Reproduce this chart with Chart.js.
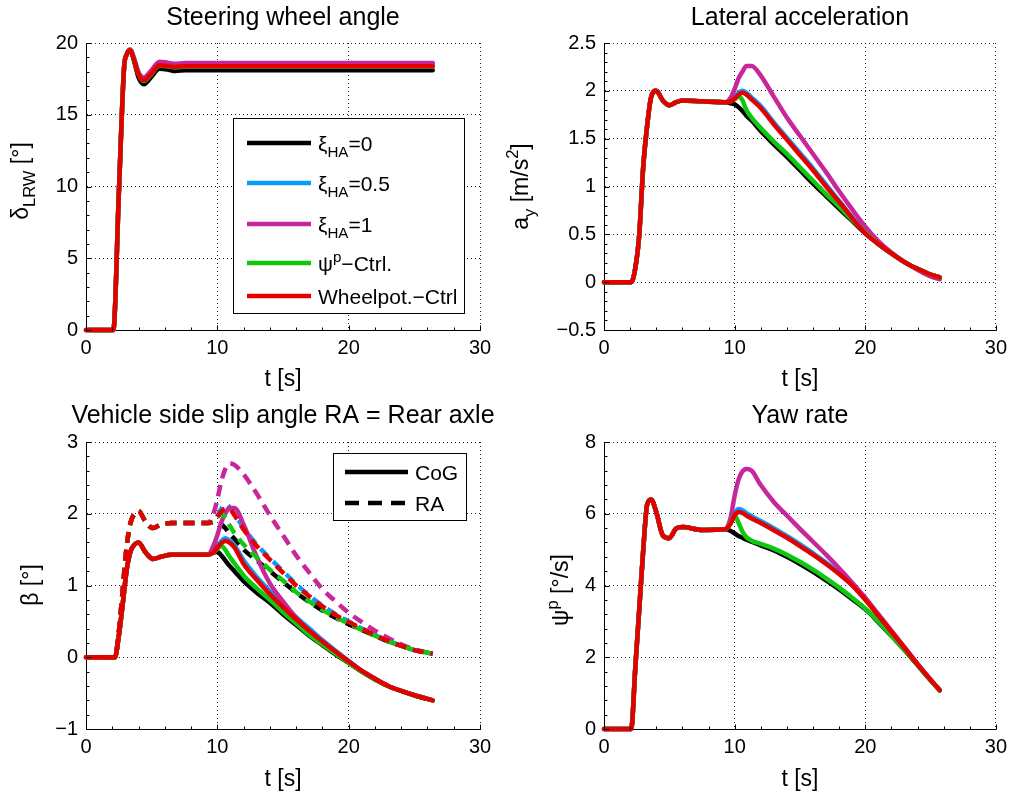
<!DOCTYPE html>
<html>
<head>
<meta charset="utf-8">
<title>Vehicle dynamics – step steer</title>
<script src="https://cdn.jsdelivr.net/npm/chart.js@4/dist/chart.umd.min.js"></script>
<style>
  html, body { margin: 0; padding: 0; background: #fff; }
  #fig { position: relative; width: 1013px; height: 794px; overflow: hidden; background: #fff; }
  #fig canvas { position: absolute; }
</style>
</head>
<body>
<div id="fig">
  <canvas id="cSteer" width="506" height="397" style="left:0px;top:0px"></canvas>
  <canvas id="cLat"   width="507" height="397" style="left:506px;top:0px"></canvas>
  <canvas id="cSlip"  width="506" height="397" style="left:0px;top:397px"></canvas>
  <canvas id="cYaw"   width="507" height="397" style="left:506px;top:397px"></canvas>
</div>
<script>
// ---------- series names and colours ----------
const seriesNames  = ['ξHA=0', 'ξHA=0.5', 'ξHA=1', 'ψp–Ctrl.', 'Wheelpot.–Ctrl'];
const seriesColors = ['#000000', '#0A9BFF', '#C8269B', '#10C810', '#E50000'];

// ---------- steering wheel angle δ_LRW [°] ----------
const tSteer       = [0, 2.08, 2.5, 2.9, 3.1, 3.35, 3.7, 4.0, 4.4, 4.9, 5.6, 6.2, 6.8, 7.6, 9, 26.4];
const steerBlack   = [0, 0, 9.5, 18.3, 19.2, 19.5, 18.6, 17.6, 17.13, 17.55, 18.2, 18.15, 18.05, 18.1, 18.1, 18.1];
const steerBlue    = [0, 0, 9.5, 18.3, 19.2, 19.55, 18.8, 17.95, 17.55, 17.95, 18.65, 18.6, 18.52, 18.57, 18.58, 18.58];
const steerMagenta = [0, 0, 9.5, 18.3, 19.2, 19.55, 18.8, 17.95, 17.6, 18.0, 18.7, 18.62, 18.55, 18.6, 18.6, 18.6];
const steerGreen   = [0, 0, 9.5, 18.3, 19.2, 19.5, 18.7, 17.8, 17.35, 17.75, 18.42, 18.38, 18.3, 18.35, 18.35, 18.35];
const steerRed     = [0, 0, 9.5, 18.3, 19.2, 19.5, 18.7, 17.8, 17.4, 17.8, 18.45, 18.4, 18.33, 18.38, 18.38, 18.38];

// ---------- time base for lateral acceleration and yaw rate ----------
const tRight = [0, 2.08, 2.4, 2.7, 3.0, 3.3, 3.6, 4.0, 4.5, 5.0, 5.5, 6.0, 7.5, 9.3,
                9.7, 10.0, 10.3, 10.6, 10.9, 11.3, 12, 13, 14, 15, 16, 17, 18, 19, 20, 21, 22, 23, 24, 25, 25.7];

// lateral acceleration a_y [m/s²]
const latStart   = [0, 0, 0.15, 0.5, 1.2, 1.63, 1.93, 2.0, 1.9, 1.85, 1.88, 1.9, 1.89, 1.88];
const latBlack   = latStart.concat([1.87, 1.86, 1.83, 1.79, 1.74, 1.69, 1.58, 1.44, 1.31, 1.17, 1.03, 0.9, 0.77, 0.64, 0.51, 0.4, 0.3, 0.21, 0.14, 0.08, 0.05]);
const latBlue    = latStart.concat([1.9, 1.94, 1.98, 2.0, 1.98, 1.93, 1.84, 1.67, 1.51, 1.35, 1.19, 1.02, 0.85, 0.68, 0.52, 0.4, 0.3, 0.21, 0.14, 0.08, 0.05]);
const latMagenta = latStart.concat([1.93, 2.02, 2.13, 2.2, 2.26, 2.26, 2.16, 1.94, 1.72, 1.53, 1.34, 1.15, 0.95, 0.76, 0.58, 0.43, 0.31, 0.21, 0.13, 0.06, 0.03]);
const latGreen   = latStart.concat([1.89, 1.91, 1.94, 1.9, 1.8, 1.72, 1.61, 1.47, 1.34, 1.2, 1.06, 0.92, 0.79, 0.65, 0.52, 0.4, 0.3, 0.21, 0.14, 0.08, 0.05]);
const latRed     = latStart.concat([1.89, 1.92, 1.96, 1.98, 1.96, 1.91, 1.82, 1.65, 1.49, 1.33, 1.17, 1.0, 0.84, 0.67, 0.51, 0.4, 0.3, 0.21, 0.14, 0.08, 0.05]);

// yaw rate ψp [°/s]
const yawStart   = [0, 0, 1.73, 3.35, 4.97, 6.25, 6.4, 6.05, 5.4, 5.32, 5.58, 5.63, 5.55, 5.57];
const yawBlack   = yawStart.concat([5.52, 5.45, 5.38, 5.33, 5.28, 5.22, 5.12, 4.98, 4.8, 4.6, 4.38, 4.14, 3.89, 3.62, 3.34, 2.98, 2.6, 2.2, 1.78, 1.36, 1.08]);
const yawBlue    = yawStart.concat([5.75, 6.0, 6.13, 6.1, 6.02, 5.93, 5.8, 5.6, 5.38, 5.15, 4.9, 4.64, 4.35, 4.02, 3.62, 3.18, 2.73, 2.27, 1.81, 1.37, 1.08]);
const yawMagenta = yawStart.concat([5.9, 6.5, 6.95, 7.18, 7.25, 7.2, 6.8, 6.33, 5.95, 5.58, 5.22, 4.86, 4.48, 4.08, 3.66, 3.2, 2.74, 2.28, 1.82, 1.38, 1.09]);
const yawGreen   = yawStart.concat([5.75, 5.96, 5.75, 5.5, 5.35, 5.25, 5.16, 5.03, 4.86, 4.66, 4.44, 4.2, 3.94, 3.66, 3.36, 3.0, 2.61, 2.21, 1.79, 1.36, 1.08]);
const yawRed     = yawStart.concat([5.73, 5.95, 6.05, 6.02, 5.95, 5.87, 5.74, 5.54, 5.33, 5.1, 4.86, 4.6, 4.32, 4.0, 3.6, 3.16, 2.71, 2.26, 1.8, 1.37, 1.08]);

// ---------- side slip angle β [°] at CoG (solid) and rear axle (dashed) ----------
const tSlip = [0, 2.2, 2.5, 2.8, 3.1, 3.4, 3.7, 4.0, 4.5, 5.1, 5.7, 6.5, 8, 9.3,
               9.7, 10.0, 10.3, 10.6, 10.9, 11.3, 12, 13, 14, 15, 16, 17, 18, 19, 20, 21, 22, 23, 24, 25, 26.4];
const cogStart   = [0, 0, 0.3, 0.75, 1.22, 1.48, 1.57, 1.6, 1.47, 1.37, 1.4, 1.43, 1.43, 1.43];
const cogBlack   = cogStart.concat([1.46, 1.47, 1.42, 1.35, 1.28, 1.2, 1.06, 0.9, 0.76, 0.6, 0.45, 0.3, 0.17, 0.04, -0.08, -0.2, -0.31, -0.4, -0.47, -0.53, -0.6]);
const cogBlue    = cogStart.concat([1.47, 1.55, 1.62, 1.66, 1.63, 1.56, 1.35, 1.12, 0.92, 0.74, 0.56, 0.4, 0.24, 0.09, -0.05, -0.19, -0.3, -0.4, -0.47, -0.53, -0.6]);
const cogMagenta = cogStart.concat([1.55, 1.7, 1.88, 2.0, 2.08, 2.08, 1.85, 1.4, 1.03, 0.78, 0.55, 0.36, 0.2, 0.06, -0.06, -0.19, -0.3, -0.4, -0.47, -0.53, -0.6]);
const cogGreen   = cogStart.concat([1.46, 1.51, 1.55, 1.5, 1.41, 1.31, 1.14, 0.96, 0.8, 0.63, 0.47, 0.31, 0.18, 0.05, -0.08, -0.2, -0.31, -0.4, -0.47, -0.53, -0.6]);
const cogRed     = cogStart.concat([1.46, 1.53, 1.59, 1.62, 1.6, 1.53, 1.3, 1.08, 0.88, 0.7, 0.53, 0.37, 0.22, 0.08, -0.06, -0.19, -0.3, -0.4, -0.47, -0.53, -0.6]);

const raStart   = [0, 0, 0.35, 0.95, 1.55, 1.88, 2.0, 2.04, 1.9, 1.8, 1.85, 1.87, 1.87, 1.87];
const raBlack   = raStart.concat([1.88, 1.87, 1.85, 1.8, 1.73, 1.65, 1.5, 1.35, 1.2, 1.05, 0.9, 0.77, 0.65, 0.55, 0.46, 0.38, 0.3, 0.22, 0.16, 0.1, 0.05]);
const raBlue    = raStart.concat([1.9, 1.97, 2.07, 2.13, 2.1, 2.0, 1.8, 1.57, 1.38, 1.2, 1.02, 0.86, 0.72, 0.6, 0.5, 0.4, 0.31, 0.23, 0.16, 0.1, 0.05]);
const raMagenta = raStart.concat([2.0, 2.2, 2.45, 2.62, 2.7, 2.68, 2.55, 2.28, 1.98, 1.7, 1.42, 1.18, 0.95, 0.78, 0.62, 0.49, 0.37, 0.27, 0.18, 0.11, 0.05]);
const raGreen   = raStart.concat([1.9, 1.95, 2.0, 1.95, 1.85, 1.73, 1.57, 1.39, 1.22, 1.07, 0.91, 0.78, 0.66, 0.56, 0.47, 0.38, 0.3, 0.22, 0.16, 0.1, 0.05]);
const raRed     = raStart.concat([1.9, 1.96, 2.03, 2.07, 2.07, 1.98, 1.78, 1.55, 1.36, 1.18, 1.0, 0.85, 0.71, 0.59, 0.49, 0.4, 0.31, 0.23, 0.16, 0.1, 0.05]);

// ---------- axis ticks ----------
const xTicks     = [0, 10, 20, 30];
const steerTicks = [0, 5, 10, 15, 20];
const latTicks   = [-0.5, 0, 0.5, 1, 1.5, 2, 2.5];
const slipTicks  = [-1, 0, 1, 2, 3];
const yawTicks   = [0, 2, 4, 6, 8];

// ---------- drawing helpers ----------
const FONT = "'Liberation Sans', Arial, Helvetica, sans-serif";
const fnt = s => s + 'px ' + FONT;
const fmt = v => String(v).replace('-', '\u2212');

// later entries are painted on top (lower "order" is drawn last in Chart.js)
function line(t, ys, color, dashed, drawIndex) {
  return {
    data: t.map((x, i) => ({ x: x, y: ys[i] })),
    borderColor: color,
    borderWidth: 4.5,
    borderDash: dashed ? [11, 7] : [],
    borderCapStyle: dashed ? 'butt' : 'round',
    borderJoinStyle: 'round',
    pointRadius: 0,
    cubicInterpolationMode: 'monotone',
    clip: false,
    fill: false,
    order: 100 - drawIndex
  };
}

// rich text: segments [text, kind] where kind is 'n', 'sub' or 'sup'
function segSize(kind, base) { return kind === 'n' ? base : base * 0.72; }
function richWidth(ctx, segs, base) {
  let w = 0;
  for (const [txt, k] of segs) { ctx.font = fnt(segSize(k, base)); w += ctx.measureText(txt).width; }
  return w;
}
function drawRich(ctx, segs, x, y, base) {
  let cx = x;
  ctx.textAlign = 'left';
  ctx.textBaseline = 'alphabetic';
  for (const [txt, k] of segs) {
    const s = segSize(k, base);
    const dy = k === 'sub' ? base * 0.3 : (k === 'sup' ? -base * 0.42 : 0);
    ctx.font = fnt(s);
    ctx.fillText(txt, cx, y + dy);
    cx += ctx.measureText(txt).width;
  }
}

// Panel decoration: title, rich y label, inward ticks, legend box
const panelDecor = {
  id: 'panelDecor',
  afterDraw(chart, args, o) {
    const ctx = chart.ctx;
    const ca = chart.chartArea;
    ctx.save();
    ctx.fillStyle = '#000';
    ctx.strokeStyle = '#000';

    // title
    ctx.font = fnt(25);
    ctx.textAlign = 'center';
    ctx.textBaseline = 'alphabetic';
    ctx.fillText(o.title, (ca.left + ca.right) / 2, o.titleY);

    // y axis label, rotated
    const w = richWidth(ctx, o.ylabel, 23);
    ctx.save();
    ctx.translate(o.ylabelX, o.ylabelCY);
    ctx.rotate(-Math.PI / 2);
    drawRich(ctx, o.ylabel, -w / 2, 0, 23);
    ctx.restore();

    // inward tick marks on the left and bottom axes
    const xs = chart.scales.x, ys = chart.scales.y;
    ctx.lineWidth = 1;
    ctx.beginPath();
    const bottom = Math.round(ca.bottom) + 0.5, left = Math.round(ca.left) + 0.5;
    const mark = (v, len, axis) => {
      if (axis === 'x') { const p = Math.round(xs.getPixelForValue(v)) + 0.5; ctx.moveTo(p, bottom); ctx.lineTo(p, bottom - len); }
      else { const p = Math.round(ys.getPixelForValue(v)) + 0.5; ctx.moveTo(left, p); ctx.lineTo(left + len, p); }
    };
    for (let v = xs.min; v <= xs.max + 1e-9; v += o.minorX) mark(v, 3, 'x');
    for (let v = ys.min; v <= ys.max + 1e-9; v += o.minorY) mark(v, 3, 'y');
    xs.ticks.forEach(t => mark(t.value, 5, 'x'));
    ys.ticks.forEach(t => mark(t.value, 5, 'y'));
    ctx.stroke();

    // legend
    if (o.legend) {
      const L = o.legend;
      ctx.fillStyle = '#fff';
      ctx.fillRect(L.box[0], L.box[1], L.box[2], L.box[3]);
      ctx.lineWidth = 1;
      ctx.strokeStyle = '#000';
      ctx.strokeRect(L.box[0], L.box[1], L.box[2], L.box[3]);
      for (const it of L.items) {
        ctx.save();
        ctx.strokeStyle = it.color;
        ctx.lineWidth = 4.5;
        ctx.setLineDash(it.dashed ? [14, 9] : []);
        ctx.beginPath();
        ctx.moveTo(L.x1, it.y);
        ctx.lineTo(L.x2, it.y);
        ctx.stroke();
        ctx.restore();
        ctx.fillStyle = '#000';
        drawRich(ctx, it.label, L.tx, it.y + L.size * 0.36, L.size);
      }
    }
    ctx.restore();
  }
};

function scaleSet(yTicks, yW, xH, titlePadBottom) {
  const tickFont = { family: FONT, size: 20 };
  const gridCommon = { color: 'rgba(0,0,0,0.85)', lineWidth: 1, drawTicks: false };
  return {
    x: {
      type: 'linear', min: xTicks[0], max: xTicks[xTicks.length - 1],
      afterBuildTicks: s => { s.ticks = xTicks.map(v => ({ value: v })); },
      ticks: { font: tickFont, color: '#000', padding: 6, maxRotation: 0, autoSkip: false, callback: fmt },
      grid: gridCommon,
      border: { display: true, color: '#000', width: 1, dash: [1, 3] },
      title: { display: true, text: 't [s]', color: '#000', font: { family: FONT, size: 23 },
               padding: { top: 0, bottom: titlePadBottom } },
      afterFit: s => { s.height = xH; }
    },
    y: {
      type: 'linear', min: yTicks[0], max: yTicks[yTicks.length - 1],
      afterBuildTicks: s => { s.ticks = yTicks.map(v => ({ value: v })); },
      ticks: { font: tickFont, color: '#000', padding: 8, autoSkip: false, callback: fmt },
      grid: gridCommon,
      border: { display: true, color: '#000', width: 1, dash: [1, 3] },
      afterFit: s => { s.width = yW; }
    }
  };
}

function makeChart(id, datasets, scales, padding, decor) {
  return new Chart(document.getElementById(id), {
    type: 'line',
    data: { datasets: datasets },
    options: {
      responsive: false,
      animation: false,
      devicePixelRatio: 1,
      events: [],
      layout: { padding: padding },
      scales: scales,
      plugins: { legend: { display: false }, tooltip: { enabled: false }, title: { display: false }, panelDecor: decor }
    },
    plugins: [panelDecor]
  });
}

// ---------- build the four panels ----------
const steerSets = [steerBlack, steerBlue, steerMagenta, steerGreen, steerRed]
  .map((ys, i) => line(tSteer, ys, seriesColors[i], false, i));
makeChart('cSteer', steerSets, scaleSet(steerTicks, 86, 67, 4),
  { left: 0, top: 43, right: 26, bottom: 0 },
  {
    title: 'Steering wheel angle', titleY: 25,
    ylabel: [['δ', 'n'], ['LRW', 'sub'], [' [°]', 'n']], ylabelX: 28, ylabelCY: 181,
    minorX: 2, minorY: 1,
    legend: {
      box: [233.5, 118.5, 231, 195], x1: 247, x2: 311, tx: 318, size: 21,
      items: [
        { y: 143, color: seriesColors[0], label: [['ξ', 'n'], ['HA', 'sub'], ['=0', 'n']] },
        { y: 183, color: seriesColors[1], label: [['ξ', 'n'], ['HA', 'sub'], ['=0.5', 'n']] },
        { y: 224, color: seriesColors[2], label: [['ξ', 'n'], ['HA', 'sub'], ['=1', 'n']] },
        { y: 263, color: seriesColors[3], label: [['ψ', 'n'], ['p', 'sup'], ['\u2212Ctrl.', 'n']] },
        { y: 296, color: seriesColors[4], label: [['Wheelpot.\u2212Ctrl', 'n']] }
      ]
    }
  });

const latSets = [latBlack, latBlue, latMagenta, latGreen, latRed]
  .map((ys, i) => line(tRight, ys, seriesColors[i], false, i));
makeChart('cLat', latSets, scaleSet(latTicks, 98, 67, 4),
  { left: 0, top: 43, right: 15, bottom: 0 },
  {
    title: 'Lateral acceleration', titleY: 25,
    ylabel: [['a', 'n'], ['y', 'sub'], [' [m/s', 'n'], ['2', 'sup'], [']', 'n']], ylabelX: 528 - 506, ylabelCY: 186.5,
    minorX: 2, minorY: 0.1
  });

const slipSets = [];
[[cogBlack, raBlack], [cogBlue, raBlue], [cogMagenta, raMagenta], [cogGreen, raGreen], [cogRed, raRed]]
  .forEach((pair, i) => {
    slipSets.push(line(tSlip, pair[0], seriesColors[i], false, slipSets.length));
    slipSets.push(line(tSlip, pair[1], seriesColors[i], true, slipSets.length));
  });
makeChart('cSlip', slipSets, scaleSet(slipTicks, 86, 65, 1),
  { left: 0, top: 45, right: 26, bottom: 0 },
  {
    title: 'Vehicle side slip angle RA = Rear axle', titleY: 26,
    ylabel: [['β [°]', 'n']], ylabelX: 38, ylabelCY: 188,
    minorX: 2, minorY: 0.2,
    legend: {
      box: [333.5, 56.5, 133, 67], x1: 345, x2: 408, tx: 415, size: 21,
      items: [
        { y: 75, color: '#000', dashed: false, label: [['CoG', 'n']] },
        { y: 106, color: '#000', dashed: true, label: [['RA', 'n']] }
      ]
    }
  });

const yawSets = [yawBlack, yawBlue, yawMagenta, yawGreen, yawRed]
  .map((ys, i) => line(tRight, ys, seriesColors[i], false, i));
makeChart('cYaw', yawSets, scaleSet(yawTicks, 98, 65, 1),
  { left: 0, top: 45, right: 15, bottom: 0 },
  {
    title: 'Yaw rate', titleY: 26,
    ylabel: [['ψ', 'n'], ['p', 'sup'], [' [°/s]', 'n']], ylabelX: 568 - 506, ylabelCY: 193,
    minorX: 2, minorY: 0.4
  });
</script>
</body>
</html>
